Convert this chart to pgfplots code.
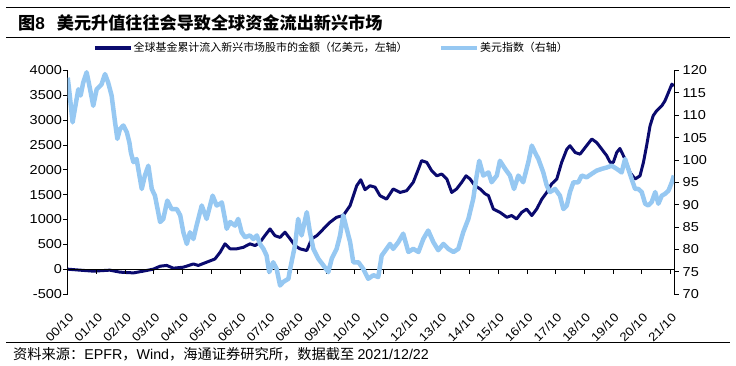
\documentclass[border=0pt]{standalone}
\usepackage{pgfplots}
\pgfplotsset{compat=1.18}
\usepackage{fontspec}
\setmainfont{Liberation Sans}
\newfontfamily\cjk{Noto Sans CJK SC}
\newfontfamily\tickf[FakeStretch=1.12]{Liberation Sans}
\definecolor{navy}{RGB}{10,10,110}
\definecolor{lblue}{RGB}{150,200,242}
\pgfplotstableread{
t v
0 0
0.43 -20
0.89 -40
1.47 -20
1.82 -60
2.29 -75
2.63 -40
2.98 0
3.22 60
3.45 75
3.68 20
4.03 40
4.38 105
4.55 75
4.84 140
5.13 205
5.31 340
5.48 510
5.66 410
5.89 410
6.12 440
6.35 510
6.53 475
6.70 540
6.87 675
7.05 810
7.22 675
7.40 640
7.57 745
7.75 610
7.92 475
8.09 410
8.33 375
8.50 610
8.68 675
8.91 810
9.14 945
9.37 1045
9.60 1080
9.84 1280
10.07 1680
10.21 1800
10.36 1600
10.53 1680
10.71 1650
10.88 1480
11.11 1410
11.34 1615
11.58 1545
11.81 1580
12.04 1750
12.22 2015
12.33 2185
12.51 2150
12.68 1985
12.86 1880
13.03 1915
13.21 1815
13.38 1545
13.55 1615
13.73 1750
13.88 1880
14.02 1815
14.19 1680
14.37 1615
14.55 1515
14.66 1480
14.83 1210
15.06 1145
15.30 1045
15.47 1080
15.64 1010
15.82 1145
15.99 1210
16.17 1080
16.34 1210
16.52 1410
16.69 1545
16.86 1715
17.04 1815
17.21 2150
17.39 2415
17.50 2485
17.68 2350
17.85 2315
18.03 2450
18.26 2620
18.43 2550
18.61 2415
18.78 2285
18.90 2150
19.01 2150
19.13 2350
19.24 2430
19.42 2215
19.59 1950
19.77 1815
19.94 1880
20.06 2150
20.17 2485
20.29 2885
20.40 3090
20.52 3190
20.70 3290
20.81 3390
20.93 3555
21.05 3725
21.12 3690
}\flows
\pgfplotstableread{
t v
0 118.4
0.06 115.1
0.17 108.4
0.25 111.4
0.37 115.8
0.45 114.4
0.54 117.3
0.66 119.6
0.78 115.8
0.89 112.1
1.01 115.8
1.18 116.9
1.30 119.2
1.41 117.3
1.53 114.4
1.65 108.4
1.73 104.7
1.82 106.9
1.94 107.7
2.06 106.2
2.15 103.9
2.20 101.7
2.29 99.5
2.40 100.2
2.58 93.5
2.69 96.5
2.81 98.7
2.93 93.5
3.04 92.0
3.22 86.1
3.33 86.8
3.47 90.9
3.62 89.0
3.80 89.0
3.92 87.6
4.03 83.8
4.15 81.2
4.26 83.8
4.38 82.3
4.49 85.3
4.67 89.8
4.84 86.8
5.05 92.0
5.19 89.8
5.31 90.2
5.37 90.5
5.48 86.8
5.54 84.6
5.66 86.1
5.83 85.3
5.94 86.8
6.06 83.8
6.18 82.7
6.35 83.1
6.47 82.3
6.59 83.1
6.70 81.2
6.82 80.1
6.93 78.6
7.02 74.9
7.16 77.1
7.28 75.6
7.40 71.9
7.51 72.7
7.69 73.4
7.75 75.6
7.92 80.9
8.03 86.8
8.15 83.1
8.33 88.3
8.44 83.8
8.56 80.1
8.73 77.9
8.91 76.4
9.08 74.9
9.20 77.9
9.37 80.1
9.49 83.1
9.60 87.6
9.72 84.6
9.84 81.6
9.95 77.1
10.13 77.1
10.30 75.6
10.47 73.4
10.65 74.2
10.82 73.8
10.94 78.6
11.11 80.1
11.23 81.2
11.34 80.1
11.52 81.6
11.69 83.5
11.87 79.4
12.04 80.1
12.22 79.4
12.39 82.3
12.56 84.2
12.74 81.6
12.91 79.8
13.09 81.2
13.26 80.1
13.44 79.4
13.61 80.1
13.78 83.8
13.96 86.8
14.13 91.3
14.25 96.5
14.34 99.8
14.48 96.5
14.66 97.2
14.77 95.0
14.95 96.5
15.06 99.8
15.24 98.0
15.41 96.5
15.55 93.5
15.70 96.5
15.87 95.0
16.05 99.5
16.17 103.2
16.28 101.7
16.40 100.2
16.57 97.2
16.69 94.3
16.80 92.8
16.98 93.5
17.15 92.0
17.27 89.0
17.39 89.8
17.50 92.8
17.62 95.0
17.79 95.0
17.91 96.5
18.08 96.1
18.26 96.9
18.43 97.6
18.61 98.0
18.78 98.3
18.95 98.7
19.13 98.0
19.30 97.2
19.42 100.2
19.53 98.0
19.65 95.7
19.77 93.5
19.88 93.5
20.00 92.8
20.12 90.2
20.23 89.8
20.35 90.6
20.47 92.8
20.58 90.2
20.70 92.0
20.81 92.4
20.93 93.1
21.05 95.0
21.12 96.5
}\dxy
\begin{document}
\begin{tikzpicture}[x=1bp,y=1bp]
\useasboundingbox (0,0) rectangle (736,365);
\draw[line width=1.3bp] (6,357.7) -- (730,357.7);
\draw[line width=1.0bp] (6,327.3) -- (730,327.3);
\draw[line width=1.0bp] (6,22.5) -- (730,22.5);
\node[anchor=west, inner sep=0pt, font=\fontsize{17.2}{19}\selectfont] at (18,342) {\cjk\bfseries 图{\rmfamily\bfseries 8}\hspace{12bp}美元升值往往会导致全球资金流出新兴市场};
\node[anchor=west, inner sep=0pt, font=\fontsize{14.3}{15}\selectfont] at (13,11) {\cjk 资料来源：{\rmfamily EPFR}，{\rmfamily Wind}，海通证券研究所，数据截至 {\rmfamily 2021/12/22}};
\begin{axis}[
  at={(67.7bp,71bp)}, anchor=south west,
  scale only axis, width=606.3bp, height=223.5bp,
  xmin=0, xmax=21.125, ymin=-500, ymax=4000,
  axis y line*=left, axis x line*=bottom,
  x axis line style={draw=none},
  axis line style={line width=0.8bp},
  ytick={-500,0,500,1000,1500,2000,2500,3000,3500,4000},
  xtick={0,...,21},
  xticklabels={00/10,01/10,02/10,03/10,04/10,05/10,06/10,07/10,08/10,09/10,10/10,11/10,12/10,13/10,14/10,15/10,16/10,17/10,18/10,19/10,20/10,21/10},
  major x tick style={draw=none},
  major y tick style={black, line width=0.8bp},
  tick align=outside, major tick length=4.5bp,
  scaled ticks=false,
  /pgf/number format/1000 sep={},
  /pgf/number format/assume math mode=true,
  tick label style={font=\tickf\fontsize{13}{13}\selectfont},
  yticklabel style={inner sep=1bp},
  xticklabel style={rotate=45, anchor=east, inner sep=0pt, xshift=-9.3bp, yshift=-14.7bp, font=\tickf\fontsize{12}{12}\selectfont},
  clip=false,
]
\addplot[navy, line width=3bp, line join=round] table[x=t, y=v] {\flows};
\draw[line width=0.8bp] (axis cs:0,0) -- (axis cs:21.125,0);
\pgfplotsinvokeforeach{0,...,21}{\draw[line width=0.8bp] (axis cs:#1,0) -- ++(0bp,-4.4bp);}
\end{axis}
\begin{axis}[
  at={(67.7bp,71bp)}, anchor=south west,
  scale only axis, width=606.3bp, height=223.5bp,
  xmin=0, xmax=21.125, ymin=70, ymax=120,
  axis y line*=right, axis x line=none,
  axis line style={line width=0.8bp},
  ytick={70,75,...,120},
  major y tick style={black, line width=0.8bp},
  tick align=outside, major tick length=4.5bp,
  /pgf/number format/assume math mode=true,
  tick label style={font=\tickf\fontsize{13}{13}\selectfont},
  yticklabel style={inner sep=1bp, xshift=3bp},
  legend style={at={(0.0417,1.1007)}, anchor=west, draw=none, fill=none, inner sep=0pt,
    legend columns=2, font=\cjk\fontsize{11}{11}\selectfont,
    /tikz/every even column/.append style={column sep=30bp},
    nodes={inner sep=1bp}},
  legend image code/.code={\draw[#1] (0bp,0bp) -- (36bp,0bp);},
]
\addlegendimage{navy, line width=3.5bp}
\addlegendentry{全球基金累计流入新兴市场股市的金额（亿美元，左轴）}
\addplot[lblue, line width=4.5bp, line join=round] table[x=t, y=v] {\dxy};
\addlegendentry{美元指数（右轴）}
\end{axis}
\end{tikzpicture}
\end{document}
